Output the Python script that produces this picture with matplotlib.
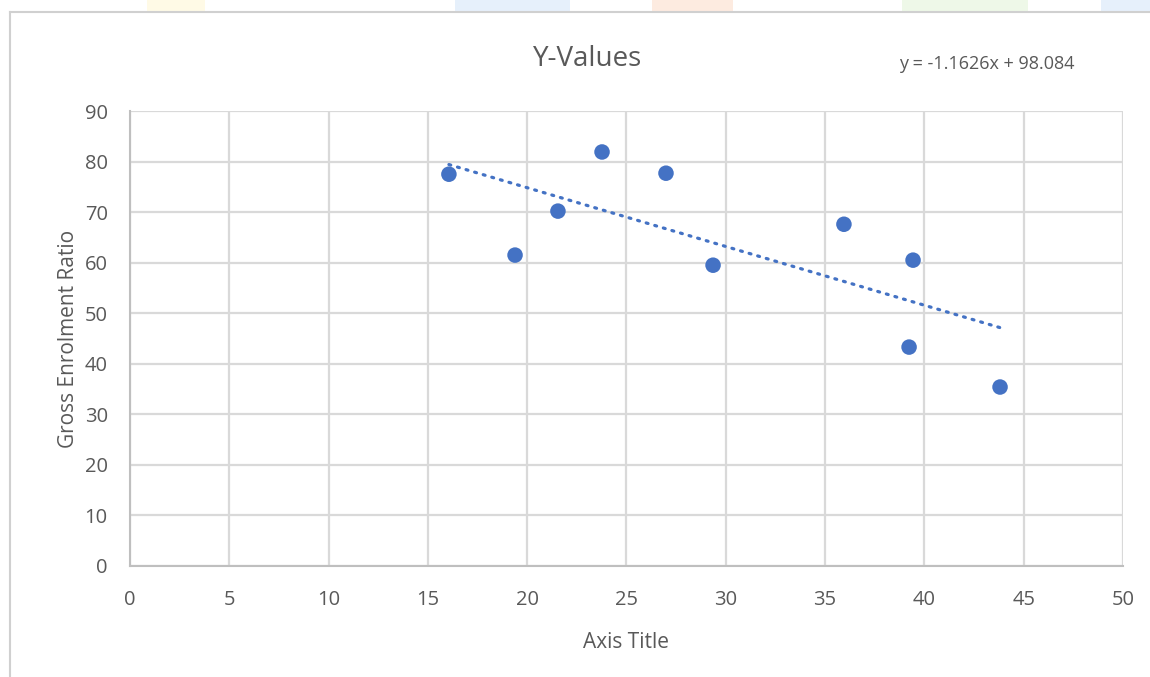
import matplotlib
matplotlib.use('Agg')
from matplotlib import pyplot as plt
from matplotlib.lines import Line2D
from matplotlib.patches import Rectangle
import numpy as np

# data
x_vals = [16.06, 19.39, 21.55, 23.77, 26.99, 29.36, 35.95, 39.43, 39.23, 43.81]
y_vals = [77.5, 61.5, 70.2, 81.9, 77.7, 59.5, 67.6, 60.5, 43.3, 35.4]
slope, intercept = -1.1626, 98.084  # excel linear trendline
x_ticks = [0, 5, 10, 15, 20, 25, 30, 35, 40, 45, 50]
y_ticks = [0, 10, 20, 30, 40, 50, 60, 70, 80, 90]

plt.rcParams['font.family'] = ['Open Sans', 'DejaVu Sans']
grey = '#595959'
blue = '#4472C4'

fig = plt.figure(figsize=(11.5, 6.77), dpi=100)
ax = fig.add_axes([0.113, 0.164, 0.8635, 0.672])

ax.scatter(x_vals, y_vals, s=125, color=blue, zorder=3, edgecolors='none')
xs = np.array([min(x_vals), max(x_vals)])
ax.plot(xs, slope * xs + intercept, color=blue, lw=2.3, linestyle=(0, (0.6, 2.2)),
        dash_capstyle='round', zorder=2)

ax.set_xlim(0, 50)
ax.set_ylim(0, 90)
ax.set_xticks(x_ticks)
ax.set_yticks(y_ticks)
ax.grid(True, color='#d9d9d9', lw=1.6)
ax.set_axisbelow(True)
ax.tick_params(length=0, colors=grey, labelsize=14.5)
ax.tick_params(axis='x', pad=17)
ax.tick_params(axis='y', pad=16)
for side in ['top', 'right']:
    ax.spines[side].set_visible(False)
for side in ['left', 'bottom']:
    ax.spines[side].set_color('#bfbfbf')
    ax.spines[side].set_linewidth(1.5)

ax.set_xlabel('Axis Title', color=grey, fontsize=15, labelpad=16)
ax.set_ylabel('Gross Enrolment Ratio', color=grey, fontsize=15, labelpad=4)

fig.text(0.511, 0.913, 'Y-Values', color=grey, fontsize=20, ha='center', va='center')
fig.text(0.858, 0.905, 'y = -1.1626x + 98.084', color=grey, fontsize=13, ha='center', va='center')

# chart area border (left and top edges visible)
fig.add_artist(Line2D([0.0087, 0.0087], [0.0, 0.982], color='#d0d0d0', lw=1.5, transform=fig.transFigure))
fig.add_artist(Line2D([0.0087, 1.0], [0.982, 0.982], color='#d0d0d0', lw=1.5, transform=fig.transFigure))

# faint coloured shapes peeking above the border
for x0, w, c in [(0.128, 0.05, '#fffae6'), (0.396, 0.10, '#e6f0fb'), (0.567, 0.07, '#fdebe0'),
                 (0.784, 0.11, '#eef8e8'), (0.957, 0.05, '#e6f0fb')]:
    fig.add_artist(Rectangle((x0, 0.984), w, 0.016, color=c, transform=fig.transFigure, lw=0))

plt.savefig('out.png', dpi=100)
